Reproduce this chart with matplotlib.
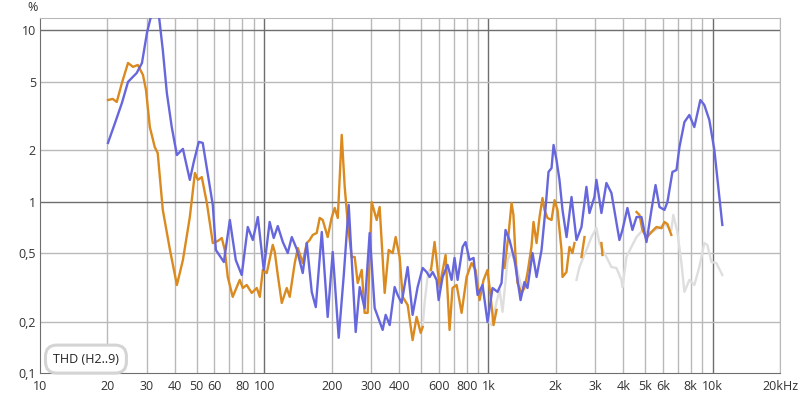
import numpy as np
import matplotlib
matplotlib.use('Agg')
from matplotlib import pyplot as plt
from matplotlib.ticker import FixedLocator, NullFormatter

plt.rcParams['font.family'] = ['Open Sans', 'DejaVu Sans']

# blue curve: THD in %, vs frequency in Hz
blue_f = [20.1, 21.6, 23.2, 24.7, 27.0, 28.5, 30.0, 31.0, 32.5, 34.0, 35.3, 36.8, 38.7, 40.8,
          43.4, 46.6, 48.5, 51.1, 53.2, 56.1, 59.0, 60.9, 66.1, 70.3, 74.7, 79.4, 84.5, 89.0,
          93.7, 99.6, 105.8, 110.3, 115.0, 121.1, 127.4, 132.8, 139.7, 148.6, 154.9, 163.0,
          169.9, 180.7, 192.0, 202.2, 215.0, 226.5, 238.3, 256.0, 266.7, 280.6, 295.5, 311.1,
          337.7, 348.3, 363.1, 382.0, 393.9, 410.4, 436.6, 459.3, 483.7, 509.3, 530.5, 547.1,
          564.3, 587.9, 600.2, 625.2, 658.0, 685.6, 706.6, 729.4, 767.7, 791.2, 824.1, 859.1,
          895.3, 942.4, 991.5, 1044, 1099, 1145, 1193, 1243, 1309, 1392, 1449, 1495, 1574,
          1641, 1727, 1800, 1855, 1914, 1954, 2014, 2076, 2142, 2233, 2350, 2473, 2603, 2739,
          2825, 2973, 3035, 3195, 3363, 3540, 3843, 3965, 4173, 4393, 4581, 4822, 5075, 5341,
          5570, 5799, 6103, 6295, 6625, 6908, 7120, 7494, 7881, 8296, 8826, 9191, 9680, 10190,
          11060]
blue_v = [2.20, 2.87, 3.76, 4.99, 5.62, 6.43, 9.62, 11.5, 14.0, 11.8, 7.66, 4.30, 2.72, 1.87,
          2.03, 1.34, 1.70, 2.23, 2.20, 1.43, 0.956, 0.523, 0.445, 0.782, 0.457, 0.374, 0.712, 0.598,
          0.814, 0.400, 0.762, 0.614, 0.721, 0.582, 0.502, 0.622, 0.530, 0.384, 0.574, 0.298,
          0.243, 0.666, 0.213, 0.509, 0.161, 0.373, 0.956, 0.174, 0.318, 0.240, 0.657, 0.240,
          0.179, 0.219, 0.191, 0.318, 0.286, 0.257, 0.416, 0.219, 0.318, 0.411, 0.389, 0.364,
          0.389, 0.350, 0.267, 0.364, 0.428, 0.350, 0.470, 0.350, 0.545, 0.582, 0.457, 0.470,
          0.286, 0.327, 0.199, 0.314, 0.298, 0.336, 0.684, 0.598, 0.457, 0.267, 0.340, 0.314, 0.502,
          0.364, 0.523, 0.919, 1.49, 1.57, 2.14, 1.75, 1.34, 0.895, 0.622, 1.065, 0.598, 0.712, 1.22,
          0.859, 1.065, 1.34, 0.859, 1.285, 1.124, 0.598, 0.684, 0.919, 0.684, 0.814, 0.814, 0.582, 0.895,
          1.25, 0.931, 0.895, 0.996, 1.49, 1.53, 2.08, 2.91, 3.20, 2.72, 3.91, 3.66, 2.99, 2.00,
          0.732]

# orange curve (None = not shown, gray underneath)
orange_f = [20.1, 21.1, 22.0, 23.2, 24.7, 26.0, 27.3, 28.8, 29.7, 30.9, 32.5, 33.5, 35.3, 38.0,
            40.8, 43.4, 46.6, 49.1, 50.6, 52.7, 55.5, 59.0, 62.1, 64.7, 66.7, 68.8, 72.4, 77.8,
            80.3, 83.6, 88.0, 92.7, 95.6, 98.6, 102.7, 109.2, 111.5, 115.0, 119.8, 126.1, 130.0,
            136.9, 141.3, 148.6, 154.9, 159.6, 164.7, 171.5, 176.9, 182.5, 192.0, 199.9, 206.4,
            213.0, 221.8, 228.7, 235.9, 245.6, 253.4, 261.4, 272.4, 280.6, 289.5, 301.7, 317.6,
            327.4, 344.8, 359.2, 374.4, 386.0, 402.0, 414.7, 436.6, 459.3, 478.7, 499.1, 509.3,
            530.0, 555.0, 575.6, 605.9, 644.6, 671.5, 692.2, 721.9, 759.9, 800.0, 841.7, 877.1, 914.3,
            952.0, 991.5, 1024, 1055, 1088, 1130, 1180, 1230, 1269, 1294, 1321, 1349, 1406, 1449,
            1495, 1557, 1590, 1641, 1692, 1744, 1780, 1836, 1914, 1974, 2035, 2120, 2142, 2230,
            2301, 2372, 2422, 2500, 2603, 2685, 2900, 3195, 3228, 3900, 4581, 4722, 4867, 5075,
            5341, 5623, 5919, 6103, 6295, 6550]
orange_v = [3.91, 3.97, 3.81, 4.92, 6.43, 6.10, 6.26, 5.47, 4.48, 2.72, 2.08, 1.92, 0.895, 0.523,
            0.327, 0.457, 0.814, 1.47, 1.34, 1.39, 0.983, 0.574, 0.590, 0.614, 0.523, 0.364, 0.279,
            0.350, 0.314, 0.327, 0.294, 0.314, 0.279, 0.400, 0.384, 0.560, 0.509, 0.374, 0.257,
            0.314, 0.279, 0.439, 0.537, 0.439, 0.574, 0.598, 0.640, 0.657, 0.804, 0.782, 0.622,
            0.804, 0.919, 0.804, 2.45, 1.22, 0.751, 0.476, 0.476, 0.336, 0.400, 0.225, 0.225, 0.996,
            0.782, 0.931, 0.294, 0.523, 0.502, 0.622, 0.476, 0.279, 0.250, 0.156, 0.213, 0.172,
            0.186, None, 0.40, 0.582, 0.318, 0.489, 0.179, 0.314, 0.327, 0.225, 0.364, 0.439, 0.400,
            0.267, 0.350, 0.400, 0.279, 0.191, 0.234, None, 0.411, 0.640, 0.983, 0.837, 0.489,
            0.336, 0.294, 0.314, 0.384, 0.545, 0.762, 0.574, 0.814, 1.05, 0.895, 0.804, 0.782,
            1.02, 0.895, 0.523, 0.364, 0.389, 0.545, 0.502, 0.574, None, 0.476, 0.622, None,
            0.574, 0.489, None, 0.871, 0.837, 0.684, 0.614, 0.666, 0.712, 0.70, 0.762, 0.74, 0.640]

# light gray curve pieces (visible where the orange one is not)
gray_f = [509.3, 520.0, 535.0, 548.0, 555.0]
gray_v = [0.186, 0.26, 0.36, 0.40, 0.40]
gray1_f = [991.5, 1033, 1088, 1122, 1157, 1218, 1269, 1337, 1406]
gray1_v = [0.205, 0.191, 0.260, 0.306, 0.228, 0.457, 0.510, 0.411, 0.318]
gray2_f = [2473, 2549, 2739, 2884, 3035, 3130, 3294, 3540, 3726, 3922, 3965, 4131, 4347, 4581,
           4867, 5341, 6103, 6550, 6685, 6968, 7265, 7494, 7881, 8296, 8734, 9191, 9484, 9885,
           10400, 11060]
gray2_v = [0.350, 0.416, 0.523, 0.622, 0.703, 0.574, 0.502, 0.416, 0.411, 0.350, 0.318, 0.476,
           0.545, 0.622, 0.68, 0.66, 0.74, 0.684, 0.837, 0.666, 0.439, 0.298, 0.350, 0.327, 0.416,
           0.574, 0.560, 0.445, 0.439, 0.374]

x_ticks = [10, 20, 30, 40, 50, 60, 80, 100, 200, 300, 400, 600, 800, 1000, 2000, 3000, 4000,
           5000, 6000, 8000, 10000, 20000]
x_labels = ['10', '20', '30', '40', '50', '60', '80', '100', '200', '300', '400', '600', '800',
            '1k', '2k', '3k', '4k', '5k', '6k', '8k', '10k', '20kHz']
y_ticks = [0.1, 0.2, 0.5, 1, 2, 5, 10]
y_labels = ['0,1', '0,2', '0,5', '1', '2', '5', '10']

BLUE = '#6767dd'
ORANGE = '#da8a1e'
GRAY = '#dedede'
MINOR = '#b9b9b9'
MAJOR = '#6e6e6e'

fig = plt.figure(figsize=(8, 3.99), dpi=100)
ax = fig.add_axes([0.05, 0.0644, 0.925, 0.8906])
ax.set_xscale('log')
ax.set_yscale('log')
ax.set_xlim(10, 20000)
ax.set_ylim(0.1, 11.76)

# grid
minor_x = [m * d for d in (10, 100, 1000) for m in range(2, 10)] + [20000]
for xv in minor_x:
    ax.axvline(xv, color=MINOR, lw=1, zorder=0)
for xv in (100, 1000, 10000):
    ax.axvline(xv, color=MAJOR, lw=1, zorder=0)
for yv in (0.2, 0.5, 2, 5):
    ax.axhline(yv, color=MINOR, lw=1, zorder=0)
for yv in (1, 10):
    ax.axhline(yv, color=MAJOR, lw=1, zorder=0)

for gf, gv in ((gray_f, gray_v), (gray1_f, gray1_v), (gray2_f, gray2_v)):
    ax.plot(gf, gv, color=GRAY, lw=1.7, zorder=1)
ov = np.array([np.nan if v is None else v for v in orange_v])
ax.plot(orange_f, ov, color=ORANGE, lw=1.7, zorder=2)
ax.plot(blue_f, blue_v, color=BLUE, lw=1.7, zorder=3)

ax.xaxis.set_major_locator(FixedLocator(x_ticks))
ax.xaxis.set_minor_locator(FixedLocator([]))
ax.set_xticklabels(x_labels)
ax.yaxis.set_major_locator(FixedLocator(y_ticks))
ax.yaxis.set_minor_locator(FixedLocator([]))
ax.yaxis.set_minor_formatter(NullFormatter())
ax.set_yticklabels(y_labels)
ax.tick_params(length=0, labelsize=9, colors='#333333')
ax.tick_params(axis='x', pad=5)
ax.tick_params(axis='y', pad=3)

for side in ('top', 'right'):
    ax.spines[side].set_color(MINOR)
for side in ('left', 'bottom'):
    ax.spines[side].set_color(MAJOR)

fig.text(0.041, 0.982, '%', fontsize=9, color='#333333', ha='center', va='center')

ax.text(0.0176, 0.040, 'THD (H2..9)', transform=ax.transAxes, fontsize=9, color='#222222',
        ha='left', va='center', zorder=5,
        bbox=dict(boxstyle='round,pad=0.6,rounding_size=0.9', fc='white', ec='#d4d4d4', lw=2.2))

fig.savefig('out.png', dpi=100)
